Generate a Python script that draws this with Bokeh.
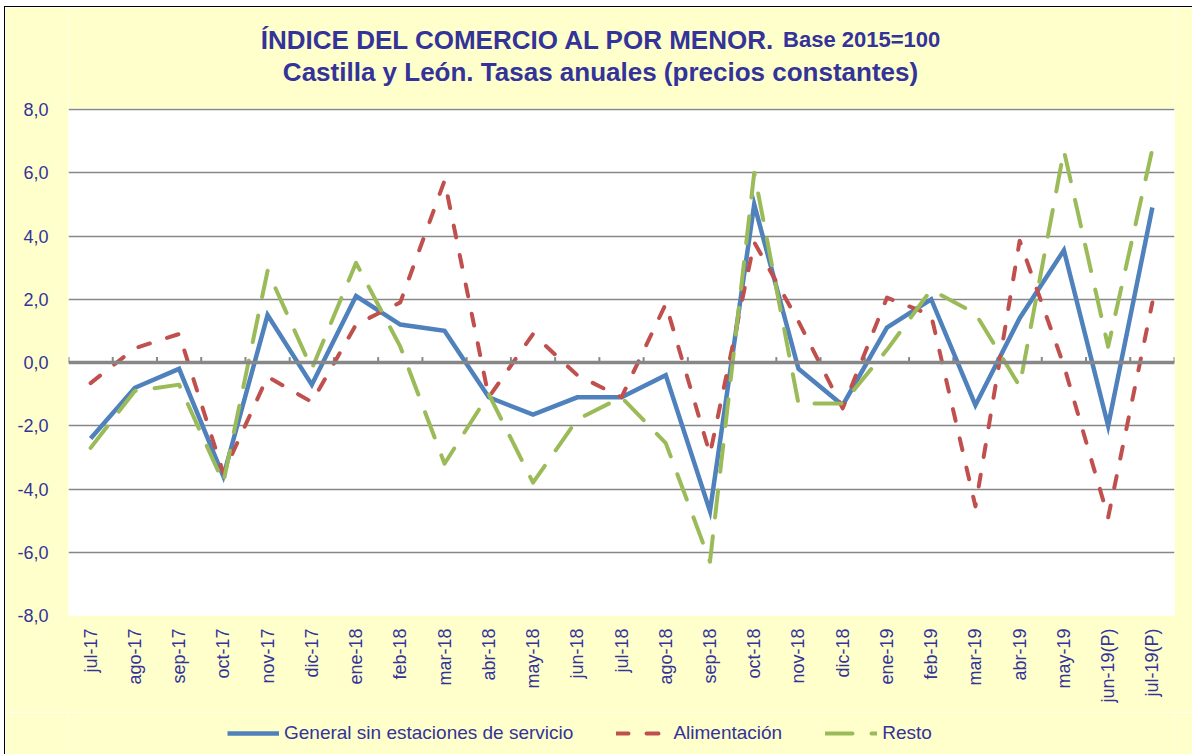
import math
from bokeh.plotting import figure
from bokeh.layouts import column
from bokeh.models import Range1d, FixedTicker, Span, Label, Legend, LegendItem, BoxAnnotation
from bokeh.embed import file_html
from bokeh.resources import INLINE

# ---------------- data ----------------
months = ["jul-17", "ago-17", "sep-17", "oct-17", "nov-17", "dic-17", "ene-18", "feb-18",
          "mar-18", "abr-18", "may-18", "jun-18", "jul-18", "ago-18", "sep-18", "oct-18",
          "nov-18", "dic-18", "ene-19", "feb-19", "mar-19", "abr-19", "may-19",
          "jun-19(P)", "jul-19(P)"]
general = [-2.4, -0.8, -0.2, -3.6, 1.5, -0.7, 2.1, 1.2, 1.0, -1.1, -1.65, -1.1, -1.1,
           -0.4, -4.7, 5.0, -0.2, -1.35, 1.1, 2.0, -1.35, 1.4, 3.55, -2.0, 4.9]
alimentacion = [-0.65, 0.45, 0.9, -3.5, -0.45, -1.25, 1.2, 1.9, 5.75, -1.1, 0.9, -0.4,
                -1.1, 1.85, -2.9, 3.8, 1.3, -1.45, 2.05, 1.5, -4.55, 3.85, -0.1, -4.9, 1.9]
resto = [-2.7, -0.9, -0.7, -3.8, 2.9, -0.2, 3.15, 0.5, -3.2, -1.0, -3.8, -1.8, -1.1,
         -2.55, -6.3, 6.0, -1.3, -1.3, 0.4, 2.3, 1.55, -0.75, 6.7, 0.5, 6.75]
series_names = ["General sin estaciones de servicio", "Alimentación", "Resto"]
y_ticks = [-8, -6, -4, -2, 0, 2, 4, 6, 8]
y_tick_labels = ["-8,0", "-6,0", "-4,0", "-2,0", "0,0", "2,0", "4,0", "6,0", "8,0"]
title_main = "ÍNDICE DEL COMERCIO AL POR MENOR."
title_base = "Base 2015=100"
title_sub = "Castilla y León. Tasas anuales (precios constantes)"

# ---------------- styling ----------------
TXT = "#333399"
FONT = "Liberation Sans"
GRID = "#878787"
BG = "#FFFFCC"
BLUE, RED, GREEN = "#4F81BD", "#C0504D", "#9BBB59"
STYLE = {
    "gen": dict(line_color=BLUE, line_width=4.5, line_join="miter"),
    "ali": dict(line_color=RED, line_width=4, line_dash="12 18", line_cap="round",
                line_join="round"),
    "res": dict(line_color=GREEN, line_width=4, line_dash="27 19", line_cap="round",
                line_join="round"),
}

OX, OY = 4, 6                       # page offset of the chart box (before 1px border)
X0, Y0 = OX + 1, OY + 1             # page position of the content
W = 1192 - X0
H_MAIN = 712 - Y0
H_LEG = 42
n = len(months)
idx = list(range(n))
YMIN, YMAX = -8, 8
# plot-area placement in page pixels
PL, PR, PT, PB = 68, 1174, 109, 615
PX_PER_CAT = (PR - PL) / n
PX_PER_UNIT = (PB - PT) / (YMAX - YMIN)
LEFT = PL - X0
RIGHT = W - (PR - X0)
BOTTOM = H_MAIN - (PB - Y0)
Y_TOP = YMAX + (PT - Y0) / PX_PER_UNIT      # frame reaches the top of the chart box


def px_to_x(px):
    return (px - PL) / PX_PER_CAT - 0.5


def py_to_y(py):
    return YMAX - (py - PT) / PX_PER_UNIT


p = figure(width=W, height=H_MAIN, output_backend="svg", toolbar_location=None,
           x_range=Range1d(-0.5, n - 0.5), y_range=Range1d(YMIN, Y_TOP),
           min_border_left=LEFT, min_border_right=RIGHT,
           min_border_top=0, min_border_bottom=BOTTOM)
p.background_fill_color = "white"
p.border_fill_color = BG
p.outline_line_color = None

# yellow chart background above the plot area (frame also holds the titles)
p.add_layout(BoxAnnotation(bottom=YMAX + 0.04, fill_color=BG, fill_alpha=1,
                           line_color=None))

# grid
p.xgrid.visible = False
p.ygrid.ticker = FixedTicker(ticks=y_ticks)
p.ygrid.grid_line_color = GRID
p.ygrid.grid_line_width = 1.5

# y axis
ya = p.yaxis[0]
ya.ticker = FixedTicker(ticks=y_ticks)
ya.major_label_overrides = dict(zip(y_ticks, y_tick_labels))
ya.axis_line_color = None
ya.major_tick_line_color = None
ya.minor_tick_line_color = None
ya.major_label_text_font = FONT
ya.major_label_text_font_size = "18px"
ya.major_label_text_color = TXT
ya.major_label_standoff = 14

# x axis
xa = p.xaxis[0]
xa.ticker = FixedTicker(ticks=idx)
xa.major_label_overrides = {i: m for i, m in zip(idx, months)}
xa.major_label_orientation = math.pi / 2
xa.axis_line_color = None
xa.major_tick_line_color = None
xa.minor_tick_line_color = None
xa.major_label_text_font = FONT
xa.major_label_text_font_size = "18px"
xa.major_label_text_color = TXT
xa.major_label_standoff = 7

# zero line with category boundary ticks
p.add_layout(Span(location=0, dimension="width", line_color=GRID, line_width=3.5))
bounds = [i - 0.5 for i in range(n + 1)]
p.segment(x0=bounds, y0=[0] * len(bounds), x1=bounds, y1=[0.17] * len(bounds),
          line_color=GRID, line_width=2)

# series
p.line(idx, general, **STYLE["gen"])
p.line(idx, alimentacion, **STYLE["ali"])
p.line(idx, resto, **STYLE["res"])

# titles (two lines, the first one with two font sizes)
CX = 600
FS_T, FS_B = 26, 22
w_main = 19.78 * FS_T
w_base = 7.144 * FS_B
gap = 8
start = CX - (w_main + w_base + gap) / 2
p.add_layout(Label(x=px_to_x(start + w_main), y=py_to_y(39), text=title_main,
                   text_font=FONT, text_font_style="bold", text_font_size=f"{FS_T}px",
                   text_color=TXT, text_align="right", text_baseline="alphabetic"))
p.add_layout(Label(x=px_to_x(start + w_main + gap), y=py_to_y(39), text=title_base,
                   text_font=FONT, text_font_style="bold", text_font_size=f"{FS_B}px",
                   text_color=TXT, text_align="left", text_baseline="alphabetic"))
p.add_layout(Label(x=px_to_x(CX), y=py_to_y(71), text=title_sub,
                   text_font=FONT, text_font_style="bold", text_font_size=f"{FS_T}px",
                   text_color=TXT, text_align="center", text_baseline="alphabetic"))

# ---------------- legend strip ----------------
# same series, drawn far outside this strip's y range: only the legend keys show
q = figure(width=W, height=H_LEG, output_backend="svg", toolbar_location=None,
           x_range=Range1d(-0.5, n - 0.5), y_range=Range1d(100, 101),
           x_axis_location=None, y_axis_location=None,
           min_border_left=0, min_border_right=0, min_border_top=0, min_border_bottom=0)
q.background_fill_color = BG
q.border_fill_color = BG
q.outline_line_color = None
q.grid.visible = False
keys = [q.line(idx, vals, **STYLE[k])
        for k, vals in (("gen", general), ("ali", alimentacion), ("res", resto))]
PAD = 4
legend = Legend(items=[LegendItem(label=name, renderers=[r])
                       for name, r in zip(series_names, keys)],
                location="left", margin=228 - X0 - PAD - 60, orientation="horizontal",
                glyph_width=52, glyph_height=20, label_standoff=5, spacing=43,
                padding=PAD, border_line_color=None, background_fill_alpha=0,
                label_text_font=FONT, label_text_font_size="19px", label_text_color=TXT)
q.add_layout(legend)

layout = column(p, q, spacing=0,
                styles={"margin-left": f"{OX}px", "margin-top": f"{OY}px",
                        "border-left": "1px solid #000000",
                        "border-top": "1px solid #000000"})

open("out.html", "w").write(file_html(layout, INLINE))
